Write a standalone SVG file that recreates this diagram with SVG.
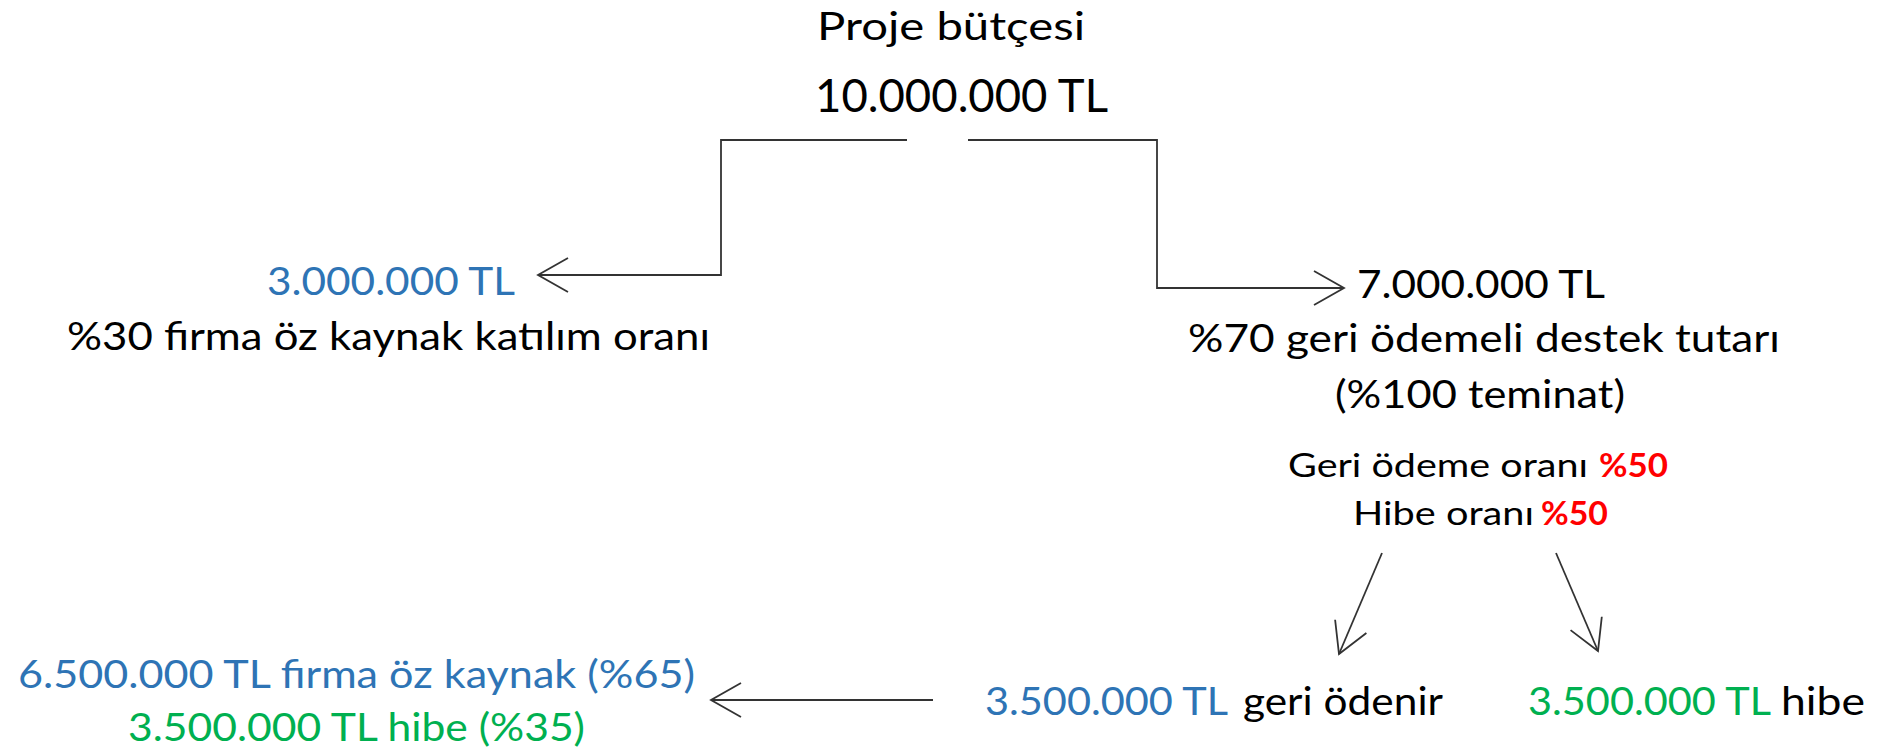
<svg xmlns="http://www.w3.org/2000/svg" width="1879" height="754" viewBox="0 0 1879 754">
<style>
  text { font-family: Lato, "Open Sans", "Liberation Sans", sans-serif; }
  .k { fill: #000000; }
  .b { fill: #2E74B5; }
  .g { fill: #00B050; }
  .r { fill: #FF0000; font-weight: bold; }
  .edge { fill: none; stroke: #333333; stroke-width: 1.8; }
</style>
<defs>
  <marker id="arr" markerUnits="userSpaceOnUse" viewBox="-34 -20 36 40" markerWidth="36" markerHeight="40" refX="0" refY="0" orient="auto">
    <path d="M -30 -17 L 0 0 L -30 17" fill="none" stroke="#333333" stroke-width="1.8"/>
  </marker>
</defs>
<rect width="1879" height="754" fill="#ffffff"/>

<g id="connectors">
  <polyline class="edge" points="907,140 721,140 721,275 538,275" marker-end="url(#arr)"/>
  <polyline class="edge" points="968,140 1157,140 1157,288 1344,288" marker-end="url(#arr)"/>
  <line class="edge" x1="1382" y1="553" x2="1339" y2="654" marker-end="url(#arr)"/>
  <line class="edge" x1="1556" y1="553" x2="1598" y2="651" marker-end="url(#arr)"/>
  <line class="edge" x1="933" y1="700" x2="711" y2="700" marker-end="url(#arr)"/>
</g>

<g id="node-budget">
  <text class="k" x="817" y="40" font-size="38" textLength="268" lengthAdjust="spacingAndGlyphs">Proje bütçesi</text>
  <text class="k" x="815" y="112" font-size="46" textLength="293" lengthAdjust="spacingAndGlyphs">10.000.000 TL</text>
</g>

<g id="node-own">
  <text class="b" x="267" y="295" font-size="39" textLength="248" lengthAdjust="spacingAndGlyphs">3.000.000 TL</text>
  <text class="k" x="67" y="350" font-size="39" textLength="643" lengthAdjust="spacingAndGlyphs">%30 firma öz kaynak katılım oranı</text>
</g>

<g id="node-support">
  <text class="k" x="1357" y="298" font-size="39" textLength="248" lengthAdjust="spacingAndGlyphs">7.000.000 TL</text>
  <text class="k" x="1188" y="352" font-size="39" textLength="592" lengthAdjust="spacingAndGlyphs">%70 geri ödemeli destek tutarı</text>
  <text class="k" x="1335" y="408" font-size="39" textLength="290" lengthAdjust="spacingAndGlyphs">(%100 teminat)</text>
</g>

<g id="node-rates">
  <text class="k" x="1288" y="477" font-size="33" textLength="300" lengthAdjust="spacingAndGlyphs">Geri ödeme oranı</text>
  <text class="r" x="1599" y="477" font-size="33" textLength="69" lengthAdjust="spacingAndGlyphs">%50</text>
  <text class="k" x="1353" y="525" font-size="33" textLength="181" lengthAdjust="spacingAndGlyphs">Hibe oranı</text>
  <text class="r" x="1541" y="525" font-size="33" textLength="67" lengthAdjust="spacingAndGlyphs">%50</text>
</g>

<g id="node-repaid">
  <text class="b" x="985" y="715" font-size="39" textLength="243" lengthAdjust="spacingAndGlyphs">3.500.000 TL</text>
  <text class="k" x="1243" y="715" font-size="39" textLength="200" lengthAdjust="spacingAndGlyphs">geri ödenir</text>
</g>

<g id="node-grant">
  <text class="g" x="1528" y="715" font-size="39" textLength="243" lengthAdjust="spacingAndGlyphs">3.500.000 TL</text>
  <text class="k" x="1781" y="715" font-size="39" textLength="84" lengthAdjust="spacingAndGlyphs">hibe</text>
</g>

<g id="node-total">
  <text class="b" x="18" y="688" font-size="39" textLength="677" lengthAdjust="spacingAndGlyphs">6.500.000 TL firma öz kaynak (%65)</text>
  <text class="g" x="128" y="741" font-size="39" textLength="457" lengthAdjust="spacingAndGlyphs">3.500.000 TL hibe (%35)</text>
</g>
</svg>
